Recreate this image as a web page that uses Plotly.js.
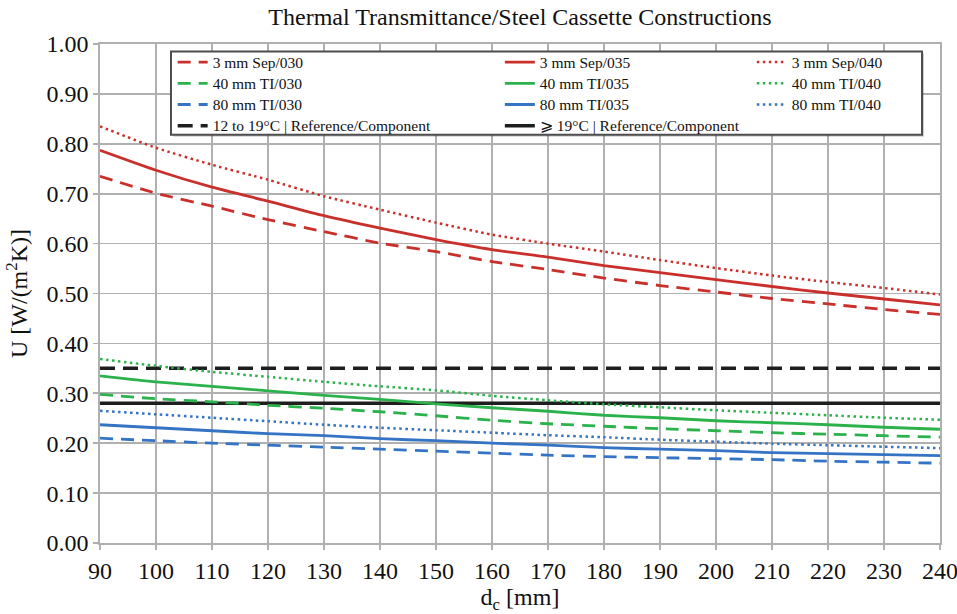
<!DOCTYPE html>
<html>
<head>
<meta charset="utf-8">
<script src="https://cdn.plot.ly/plotly-3.0.1.min.js"></script>
<style>html,body{margin:0;padding:0;background:#fff;}#chart{width:957px;height:614px;}</style>
</head>
<body>
<div id="chart"></div>
<script>
// ---- data ----
const dc = [90,100,110,120,130,140,150,160,170,180,190,200,210,220,230,240];

const sep030 = [0.735,0.701,0.675,0.648,0.624,0.601,0.584,0.564,0.548,0.531,0.516,0.503,0.490,0.479,0.468,0.458];
const sep035 = [0.787,0.747,0.713,0.685,0.656,0.631,0.608,0.588,0.573,0.556,0.542,0.528,0.514,0.501,0.489,0.477];
const sep040 = [0.835,0.792,0.758,0.728,0.695,0.668,0.642,0.618,0.600,0.584,0.567,0.551,0.536,0.523,0.511,0.498];

const ti40_030 = [0.298,0.289,0.283,0.276,0.270,0.263,0.255,0.246,0.239,0.234,0.229,0.225,0.221,0.218,0.215,0.212];
const ti40_035 = [0.335,0.323,0.314,0.305,0.296,0.288,0.279,0.271,0.264,0.256,0.251,0.245,0.241,0.237,0.232,0.228];
const ti40_040 = [0.369,0.355,0.343,0.333,0.323,0.314,0.306,0.295,0.286,0.278,0.272,0.266,0.261,0.256,0.251,0.247];

const ti80_030 = [0.210,0.205,0.200,0.196,0.192,0.188,0.184,0.180,0.176,0.173,0.171,0.169,0.167,0.164,0.162,0.160];
const ti80_035 = [0.237,0.231,0.225,0.219,0.215,0.209,0.205,0.200,0.196,0.191,0.188,0.185,0.181,0.179,0.177,0.175];
const ti80_040 = [0.265,0.258,0.251,0.244,0.237,0.231,0.226,0.221,0.216,0.212,0.207,0.203,0.199,0.196,0.193,0.190];

const refX = [90, 240];
const ref12to19 = [0.35, 0.35];
const ref19 = [0.28, 0.28];

const names = {
  sep030: '3 mm Sep/030', sep035: '3 mm Sep/035', sep040: '3 mm Sep/040',
  ti40_030: '40 mm TI/030', ti40_035: '40 mm TI/035', ti40_040: '40 mm TI/040',
  ti80_030: '80 mm TI/030', ti80_035: '80 mm TI/035', ti80_040: '80 mm TI/040',
  ref1: '12 to 19°C | Reference/Component', ref2: '⩾ 19°C | Reference/Component'
};
const yTickVals = [0,0.1,0.2,0.3,0.4,0.5,0.6,0.7,0.8,0.9,1.0];

// ---- styling ----
const RED = '#c9302c', GREEN = '#2bb24c', BLUE = '#3574c4', BLACK = '#1e1e1e';
const DASH = '13px,8px', DOT = '2.5px,3.5px';
const lbl = t => '<span style="font-size:15.5px">' + t + '</span>';

function tr(x, y, name, color, dash, width, legend) {
  return {x: x, y: y, name: lbl(name), type: 'scatter', mode: 'lines',
    line: {color: color, dash: dash, width: width, shape: 'spline', smoothing: 0.6},
    legend: legend, hoverinfo: 'skip'};
}

const data = [
  tr(refX, ref12to19, names.ref1, BLACK, '15px,8px', 3.5, 'legend'),
  tr(refX, ref19, names.ref2, BLACK, 'solid', 3.5, 'legend2'),
  tr(dc, sep030, names.sep030, RED, DASH, 2.8, 'legend'),
  tr(dc, ti40_030, names.ti40_030, GREEN, DASH, 2.8, 'legend'),
  tr(dc, ti80_030, names.ti80_030, BLUE, DASH, 2.8, 'legend'),
  tr(dc, sep035, names.sep035, RED, 'solid', 2.8, 'legend2'),
  tr(dc, ti40_035, names.ti40_035, GREEN, 'solid', 2.8, 'legend2'),
  tr(dc, ti80_035, names.ti80_035, BLUE, 'solid', 2.8, 'legend2'),
  tr(dc, sep040, names.sep040, RED, DOT, 2.5, 'legend3'),
  tr(dc, ti40_040, names.ti40_040, GREEN, DOT, 2.5, 'legend3'),
  tr(dc, ti80_040, names.ti80_040, BLUE, DOT, 2.5, 'legend3')
];
data.forEach((d, i) => { d.legendrank = (i < 2) ? 2000 : 1000 + i; });

const FONT = '"Liberation Serif", "Times New Roman", Times, serif';
const GRID = '#b0b0b0';
const legendBase = {bgcolor: 'rgba(0,0,0,0)', borderwidth: 0, font: {family: FONT, size: 14, color: '#111'},
  yanchor: 'top', xanchor: 'left', y: 0.995, traceorder: 'normal', itemwidth: 30};

const layout = {
  width: 957, height: 614,
  margin: {l: 100, r: 17, t: 44, b: 71},
  paper_bgcolor: '#fff', plot_bgcolor: '#fff',
  font: {family: FONT, size: 24, color: '#111'},
  title: {text: 'Thermal Transmittance/Steel Cassette Constructions', font: {family: FONT, size: 24, color: '#111'},
    x: 0.5, xref: 'paper', xanchor: 'center', y: 0.973, yref: 'container', yanchor: 'middle'},
  xaxis: {range: [90, 240], dtick: 10, tick0: 90, showgrid: true, gridcolor: GRID, gridwidth: 1.7,
    ticks: 'outside', ticklen: 5, tickcolor: GRID, tickwidth: 1.7, showline: true, linecolor: GRID, linewidth: 1.7, mirror: true,
    zeroline: false, ticklabeloverflow: 'allow', tickfont: {family: FONT, size: 24, color: '#111'},
    title: {text: 'd<sub>c</sub> [mm]', font: {family: FONT, size: 24, color: '#111'}, standoff: 10}},
  yaxis: {range: [0, 1], tickvals: yTickVals, tickformat: '.2f', showgrid: true, gridcolor: GRID, gridwidth: 1.7,
    ticks: 'outside', ticklen: 5, tickcolor: GRID, tickwidth: 1.7, showline: true, linecolor: GRID, linewidth: 1.7, mirror: true,
    zeroline: false, ticklabeloverflow: 'allow', tickfont: {family: FONT, size: 24, color: '#111'},
    title: {text: 'U [W/(m<sup>2</sup>K)]', font: {family: FONT, size: 24, color: '#111'}, standoff: 12}},
  showlegend: true,
  legend: Object.assign({}, legendBase, {x: 0.0865}),
  legend2: Object.assign({}, legendBase, {x: 0.476}),
  legend3: Object.assign({}, legendBase, {x: 0.776}),
  shapes: [
    {type: 'rect', xref: 'paper', yref: 'paper', x0: 0.0875, x1: 0.981, y0: 0.814, y1: 0.981,
      line: {width: 0}, fillcolor: 'rgba(0,0,0,0.18)', layer: 'above'},
    {type: 'rect', xref: 'paper', yref: 'paper', x0: 0.0845, x1: 0.9786, y0: 0.8182, y1: 0.9852,
      line: {color: '#4d4d4d', width: 2}, fillcolor: '#fff', layer: 'above'}
  ]
};

Plotly.newPlot('chart', data, layout, {displayModeBar: false, staticPlot: true});
</script>
</body>
</html>
